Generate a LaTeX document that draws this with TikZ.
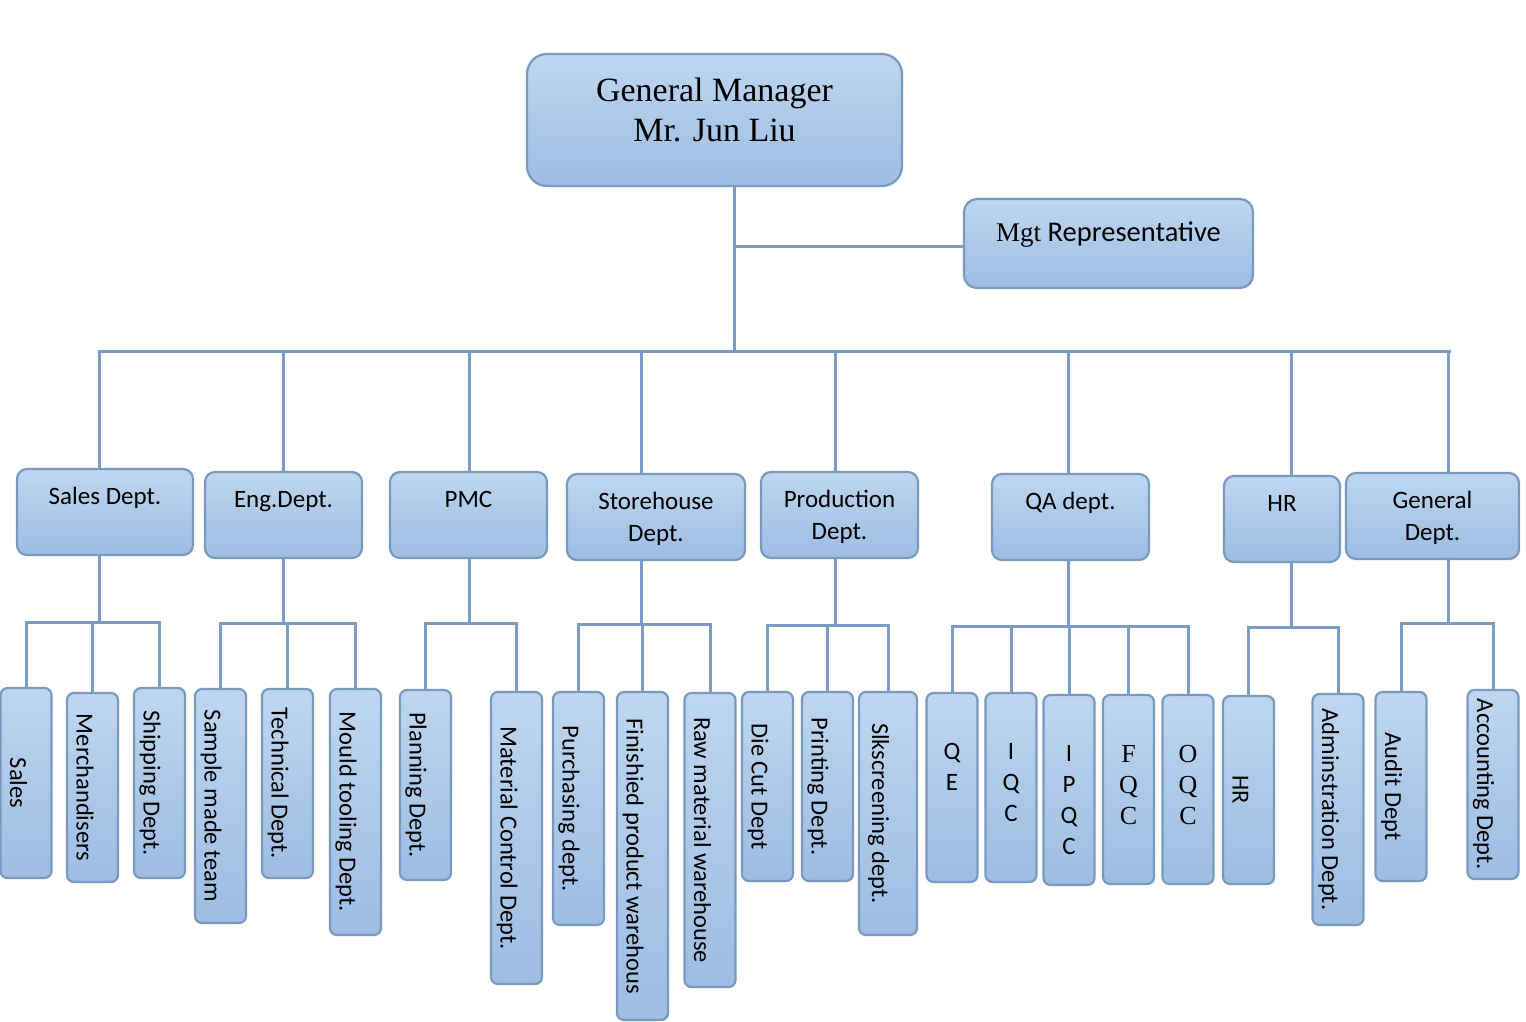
\documentclass[tikz,border=0pt]{standalone}
\usepackage{fontspec}
\setmainfont{Carlito}
\newfontfamily\timesfont{Liberation Serif}
\definecolor{boxtop}{RGB}{190,214,240}
\definecolor{boxbot}{RGB}{157,189,226}
\definecolor{boxline}{RGB}{122,153,191}
\definecolor{wirecol}{RGB}{123,157,196}
\tikzset{
  box/.style={draw=boxline, line width=2.2pt, top color=boxtop, bottom color=boxbot,
    rounded corners=10pt, inner sep=0pt, font=\fontsize{25}{32}\selectfont},
  dept/.style={box, minimum height=86pt, align=center},
  oneline/.style={text depth=32pt},
  twoline/.style={text depth=0pt},
  unit/.style={box, rotate=-90, minimum height=51pt,
    rounded corners=7pt, text height=38pt, text depth=6pt, font=\fontsize{24.5}{30}\selectfont},
  qc/.style={box, minimum width=51pt, rounded corners=7pt},
  qctext/.style={anchor=north, yshift=-51pt, align=center, inner sep=0pt, font=\fontsize{25}{31}\selectfont},
  qcserif/.style={qctext, font=\timesfont\fontsize{26}{31}\selectfont},
  wire/.style={draw=wirecol, line width=3pt, line cap=rect}
}
\begin{document}
\begin{tikzpicture}[x=1pt, y=-1pt]
    \useasboundingbox (0,0) rectangle (1526,1021);
    \node[box, minimum width=375pt, minimum height=132pt, rounded corners=20pt, align=center,
      font=\timesfont\fontsize{34}{40}\selectfont, text depth=21pt] (gm) at (714.5,120) {General Manager\\Mr. Jun Liu};
    \node[box, minimum width=289pt, minimum height=89pt, rounded corners=13pt,
      font=\fontsize{28.5}{34}\selectfont, text depth=24pt] (mgt) at (1108.5,243.5) {{\timesfont\fontsize{27}{34}\selectfont Mgt} Representative};

    \node[dept, oneline, minimum width=176pt] (sales) at (105,512) {Sales Dept.};
    \node[dept, oneline, minimum width=157pt] (eng) at (283.5,515) {Eng.Dept.};
    \node[dept, oneline, minimum width=157pt] (pmc) at (468.5,515) {PMC};
    \node[dept, twoline, minimum width=178pt] (store) at (656,517) {Storehouse\\Dept.};
    \node[dept, twoline, minimum width=157pt] (prod) at (839.5,515) {Production\\Dept.};
    \node[dept, oneline, minimum width=157pt] (qa) at (1070.5,517) {QA dept.};
    \node[dept, oneline, minimum width=116pt] (hr) at (1282,519) {HR};
    \node[dept, twoline, minimum width=173pt] (gen) at (1432.5,516) {General\\Dept.};

    \node[unit, minimum width=190pt] (s1) at (26,783) {Sales};
    \node[unit, minimum width=189pt] (s2) at (92.5,787.5) {Merchandisers};
    \node[unit, minimum width=190pt] (s3) at (159.5,783) {Shipping Dept.};
    \node[unit, minimum width=234pt] (e1) at (220.5,806) {Sample made team};
    \node[unit, minimum width=189pt] (e2) at (287.5,783.5) {Technical Dept.};
    \node[unit, minimum width=246pt] (e3) at (355.5,812) {Mould tooling Dept.};
    \node[unit, minimum width=190pt] (p1) at (425.5,785) {Planning Dept.};
    \node[unit, minimum width=292pt] (p2) at (516.5,838) {Material Control Dept.};
    \node[unit, minimum width=233pt] (w1) at (578.5,808.5) {Purchasing dept.};
    \node[unit, minimum width=328pt] (w2) at (642.5,856) {Finishied product warehous};
    \node[unit, minimum width=294pt] (w3) at (710,840) {Raw material warehouse};
    \node[unit, minimum width=189pt] (d1) at (767.5,786.5) {Die Cut Dept};
    \node[unit, minimum width=189pt] (d2) at (827.5,786.5) {Printing Dept.};
    \node[unit, minimum width=243pt, minimum height=58pt] (d3) at (888,813.5) {Slkscreening dept.};
    \node[qc, minimum height=189pt, label={[qctext]north:Q\\E}] (q1) at (952,787.5) {};
    \node[qc, minimum height=189pt, label={[qctext]north:I\\Q\\C}] (q2) at (1011,787.5) {};
    \node[qc, minimum height=190pt, label={[qctext]north:I\\P\\Q\\C}] (q3) at (1069,790) {};
    \node[qc, minimum height=189pt, label={[qcserif]north:F\\Q\\C}] (q4) at (1128.5,789.5) {};
    \node[qc, minimum height=189pt, label={[qcserif]north:O\\Q\\C}] (q5) at (1188,789.5) {};
    \node[unit, minimum width=188pt] (h1) at (1248.5,790) {HR};
    \node[unit, minimum width=231pt] (h2) at (1338,809.5) {Adminstration Dept.};
    \node[unit, minimum width=189pt] (g1) at (1401,786.5) {Audit Dept};
    \node[unit, minimum width=189pt] (g2) at (1493,784.5) {Accounting Dept.};

    \coordinate (bus-l) at (100,351);
    \coordinate (bus-r) at (1449,351);
    \coordinate (mgt-j) at (734,246);
    \coordinate (sales-bus) at (0,622);
    \coordinate (eng-bus) at (0,623);
    \coordinate (pmc-bus) at (0,623);
    \coordinate (store-bus) at (0,624);
    \coordinate (prod-bus) at (0,625);
    \coordinate (qa-bus) at (0,626);
    \coordinate (hr-bus) at (0,627);
    \coordinate (gen-bus) at (0,623);

    \draw[wire] ([xshift=19.5pt]gm.south) -- ([xshift=19.5pt]gm.south |- bus-l);
    \draw[wire] (mgt-j) -- (mgt-j -| mgt.west);
    \draw[wire] (bus-l) -- (bus-r);
    \foreach \n/\d in {sales/-6, eng/0, pmc/1, store/-15, prod/-4, qa/-2, hr/9.5, gen/15.5}{
      \draw[wire] ([xshift=\d pt]\n.north |- bus-l) -- ([xshift=\d pt]\n.north);
      \draw[wire] ([xshift=\d pt]\n.south) -- ([xshift=\d pt]\n.south |- \n-bus);
    }
    \foreach \n/\a/\b/\cs in {sales/s1/s3/{s1,s2,s3}, eng/e1/e3/{e1,e2,e3}, pmc/p1/p2/{p1,p2},
      store/w1/w3/{w1,w2,w3}, prod/d1/d3/{d1,d2,d3}, qa/q1/q5/{q1,q2,q3,q4,q5},
      hr/h1/h2/{h1,h2}, gen/g1/g2/{g1,g2}}{
      \draw[wire] (\a |- \n-bus) -- (\b |- \n-bus);
      \foreach \c in \cs \draw[wire] (\c |- \n-bus) -- (\c);
    }
\end{tikzpicture}
\end{document}
